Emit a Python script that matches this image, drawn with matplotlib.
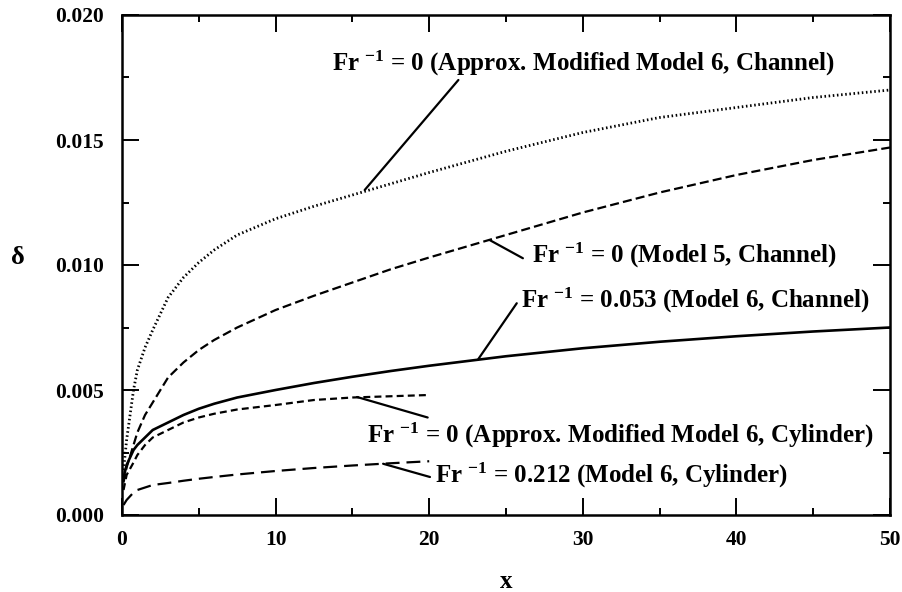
import matplotlib
matplotlib.use("Agg")
import matplotlib.pyplot as plt
from matplotlib.ticker import MultipleLocator, FormatStrFormatter

plt.rcParams['font.family'] = ['Liberation Serif', 'DejaVu Serif']
plt.rcParams['font.weight'] = 'bold'
plt.rcParams['mathtext.fontset'] = 'custom'
plt.rcParams['mathtext.rm'] = 'Liberation Serif:bold'
plt.rcParams['mathtext.it'] = 'Liberation Serif:bold'
plt.rcParams['mathtext.bf'] = 'Liberation Serif:bold'
plt.rcParams['lines.scale_dashes'] = False

# ---- data ----
x_channel = [0.1, 0.3, 0.75, 1, 1.5, 2, 3, 4, 5, 6, 7.5, 10, 12.5, 15, 17.5, 20,
             25, 30, 35, 40, 45, 50]
d_approx_channel = [0.0018, 0.0030, 0.0050, 0.0058, 0.0067, 0.0074, 0.0087, 0.0095,
                    0.0101, 0.0106, 0.0112, 0.01185, 0.01235, 0.0128, 0.01325, 0.0137,
                    0.01455, 0.0153, 0.0159, 0.0163, 0.0167, 0.0170]
d_model5_channel = [0.0013, 0.0019, 0.0028, 0.0033, 0.0040, 0.0045, 0.0055, 0.0061,
                    0.0066, 0.0070, 0.0075, 0.0082, 0.00877, 0.0093, 0.00983, 0.0103,
                    0.0112, 0.0121, 0.0129, 0.0136, 0.0142, 0.0147]
d_model6_channel = [0.0015, 0.0020, 0.0026, 0.0028, 0.0031, 0.0034, 0.0037, 0.0040,
                    0.00425, 0.00445, 0.0047, 0.0050, 0.00528, 0.00553, 0.00576, 0.00597,
                    0.00635, 0.00667, 0.00693, 0.00715, 0.00734, 0.0075]

x_cylinder = [0.1, 0.3, 0.75, 1, 1.5, 2, 3, 4, 5, 6, 7.5, 10, 12.5, 15, 17.5, 20]
d_approx_cylinder = [0.0010, 0.0016, 0.0021, 0.0024, 0.0028, 0.0031, 0.0034, 0.0037,
                     0.0039, 0.00405, 0.00422, 0.0044, 0.0046, 0.0047, 0.00475, 0.0048]
d_model6_cylinder = [0.0004, 0.0006, 0.0009, 0.0010, 0.0011, 0.0012, 0.00128, 0.00137,
                     0.00145, 0.00152, 0.00162, 0.00176, 0.00188, 0.00198, 0.00207,
                     0.00215]

labels = [
    r"Fr $^{-1}$ = 0 (Approx. Modified Model 6, Channel)",
    r"Fr $^{-1}$ = 0 (Model 5, Channel)",
    r"Fr $^{-1}$ = 0.053 (Model 6, Channel)",
    r"Fr $^{-1}$ = 0 (Approx. Modified Model 6, Cylinder)",
    r"Fr $^{-1}$ = 0.212 (Model 6, Cylinder)",
]

x_ticks = [0, 10, 20, 30, 40, 50]
y_ticks = [0.000, 0.005, 0.010, 0.015, 0.020]

# ---- figure ----
fig = plt.figure(figsize=(9.02, 5.92), dpi=100)
ax = fig.add_axes([122/902, 77/592, 768/902, 500/592])

lw = 1.6
ax.plot(x_channel, d_approx_channel, color='black', lw=2.0, linestyle=(0, (1.1, 1.9)))
ax.plot(x_channel, d_model5_channel, color='black', lw=lw, linestyle=(0, (6.5, 3)))
ax.plot(x_channel, d_model6_channel, color='black', lw=lw + 0.3, linestyle='-')
ax.plot(x_cylinder, d_approx_cylinder, color='black', lw=lw, linestyle=(0, (5, 3)))
ax.plot(x_cylinder, d_model6_cylinder, color='black', lw=lw, linestyle=(0, (10, 5)))

# annotations: (curve point, leader end, text start)
ann = [
    ((15.8, 0.0130), (21.9, 0.0174), (13.7, 0.01808)),
    ((23.96, 0.01099), (26.1, 0.01027), (26.7, 0.0104)),
    ((23.2, 0.00624), (25.7, 0.00847), (26.0, 0.0086)),
    ((15.3, 0.00472), (19.9, 0.0039), (15.95, 0.0032)),
    ((17.0, 0.00205), (20.05, 0.00152), (20.4, 0.0016)),
]
fs = 18
for lab, (p, q, t) in zip(labels, ann):
    ax.annotate('', xy=p, xytext=q,
                arrowprops=dict(arrowstyle='-', lw=1.6, color='black',
                                shrinkA=0, shrinkB=0))
    ax.text(t[0], t[1], lab, ha='left', va='center', fontsize=fs,
            fontweight='bold')

ax.set_xlim(0, 50)
ax.set_ylim(0, 0.020)
ax.set_xticks(x_ticks)
ax.set_yticks(y_ticks)
ax.yaxis.set_major_formatter(FormatStrFormatter('%.3f'))
ax.xaxis.set_minor_locator(MultipleLocator(5))
ax.yaxis.set_minor_locator(MultipleLocator(0.0025))
ax.tick_params(which='both', direction='in', top=True, right=True, width=1.4,
               labelsize=15.5)
ax.tick_params(axis='x', which='both', pad=11)
ax.tick_params(axis='y', which='both', pad=13)
ax.tick_params(which='major', length=12)
ax.tick_params(which='minor', length=5)
for lbl in ax.get_xticklabels() + ax.get_yticklabels():
    lbl.set_fontweight('bold')
for s in ax.spines.values():
    s.set_linewidth(1.8)

ax.set_xlabel('x', fontsize=18, fontweight='bold', va='center')
ax.xaxis.set_label_coords((506 - 122) / 768, (515 - 582) / 500)
ax.set_ylabel('δ', fontsize=19, fontweight='bold', rotation=0, va='center',
              ha='center')
ax.yaxis.set_label_coords((18 - 122) / 768, (515 - 257) / 500)

fig.savefig('out.png', dpi=100)
